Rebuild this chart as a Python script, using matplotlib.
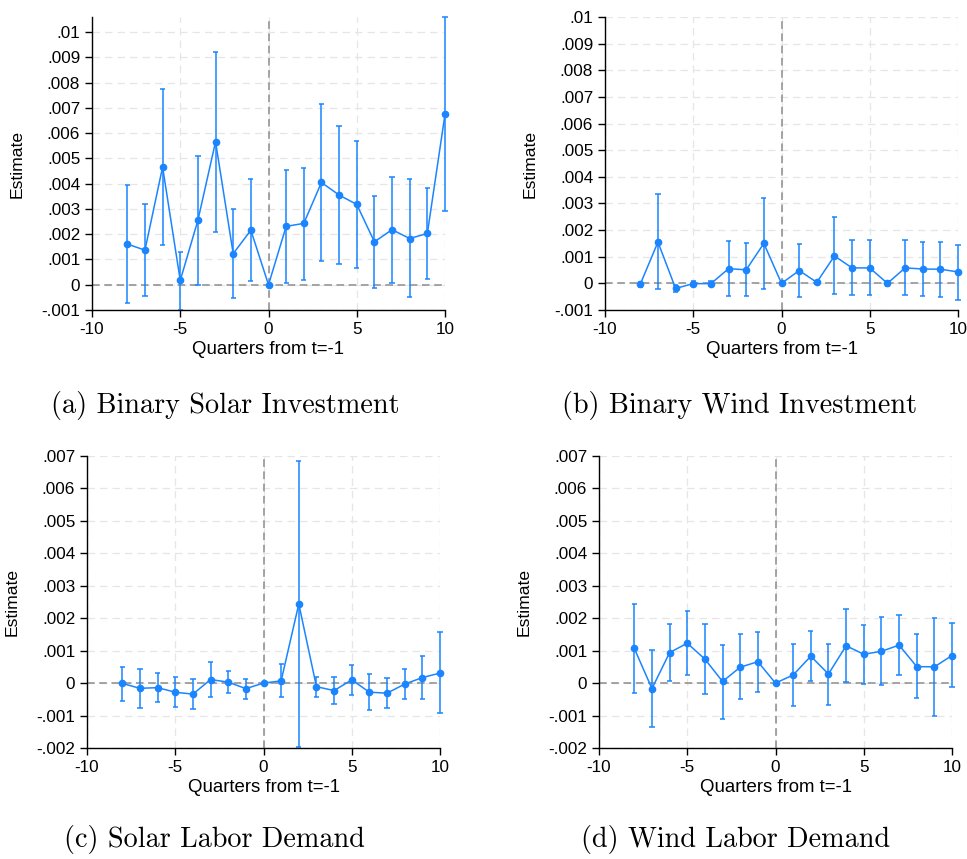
import matplotlib
matplotlib.use("Agg")
import matplotlib.pyplot as plt
from matplotlib.ticker import FuncFormatter

plt.rcParams['font.family'] = ['Liberation Sans', 'DejaVu Sans']
plt.rcParams['axes.unicode_minus'] = False

quarters = [-8, -7, -6, -5, -4, -3, -2, -1, 0, 1, 2, 3, 4, 5, 6, 7, 8, 9, 10]

# (a) Binary Solar Investment  (units of 0.001)
solar_inv_est = [1.61, 1.37, 4.66, 0.17, 2.55, 5.66, 1.23, 2.16, 0.0, 2.31, 2.43,
                 4.05, 3.55, 3.18, 1.70, 2.18, 1.83, 2.03, 6.75]
solar_inv_hi = [3.94, 3.19, 7.74, 1.29, 5.09, 9.22, 2.98, 4.17, 0.0, 4.56, 4.64,
                7.14, 6.29, 5.71, 3.52, 4.26, 4.17, 3.84, 10.61]
solar_inv_lo = [-0.74, -0.45, 1.56, -1.00, 0.0, 2.08, -0.54, 0.15, 0.0, 0.05, 0.20,
                0.95, 0.82, 0.65, -0.11, 0.08, -0.50, 0.22, 2.92]

# (b) Binary Wind Investment
wind_inv_est = [-0.03, 1.55, -0.19, -0.01, -0.01, 0.55, 0.51, 1.50, 0.0, 0.48, 0.04,
                1.03, 0.58, 0.58, 0.0, 0.58, 0.54, 0.53, 0.43]
wind_inv_hi = [0.05, 3.34, -0.05, 0.08, 0.08, 1.59, 1.51, 3.22, 0.0, 1.46, 0.10,
               2.49, 1.61, 1.61, 0.08, 1.61, 1.56, 1.54, 1.45]
wind_inv_lo = [-0.13, -0.21, -0.33, -0.09, -0.10, -0.46, -0.46, -0.20, 0.0, -0.51, -0.03,
               -0.41, -0.45, -0.45, -0.09, -0.45, -0.49, -0.50, -0.61]

# (c) Solar Labor Demand
solar_lab_est = [-0.01, -0.16, -0.14, -0.28, -0.34, 0.11, 0.03, -0.17, 0.0, 0.07, 2.44,
                 -0.11, -0.23, 0.10, -0.28, -0.31, -0.03, 0.17, 0.31]
solar_lab_hi = [0.51, 0.42, 0.31, 0.18, 0.14, 0.65, 0.37, 0.12, 0.0, 0.59, 6.86,
                0.20, 0.18, 0.57, 0.28, 0.16, 0.45, 0.83, 1.56]
solar_lab_lo = [-0.54, -0.76, -0.59, -0.74, -0.81, -0.42, -0.31, -0.48, 0.0, -0.42, -1.98,
                -0.43, -0.64, -0.38, -0.83, -0.77, -0.50, -0.49, -0.93]

# (d) Wind Labor Demand
wind_lab_est = [1.07, -0.17, 0.94, 1.23, 0.74, 0.05, 0.49, 0.66, 0.0, 0.25, 0.83,
                0.28, 1.15, 0.89, 0.98, 1.17, 0.51, 0.50, 0.85]
wind_lab_hi = [2.45, 1.02, 1.83, 2.22, 1.83, 1.19, 1.51, 1.58, 0.0, 1.21, 1.62,
               1.22, 2.27, 1.80, 2.05, 2.11, 1.50, 2.01, 1.84]
wind_lab_lo = [-0.31, -1.36, 0.05, 0.25, -0.34, -1.10, -0.49, -0.27, 0.0, -0.72, 0.05,
               -0.67, 0.02, -0.02, -0.07, 0.25, -0.46, -1.01, -0.12]

captions = ["(a) Binary Solar Investment", "(b) Binary Wind Investment",
            "(c) Solar Labor Demand", "(d) Wind Labor Demand"]

BLUE = '#1a85ff'
W, H = 967, 859


def fmt(v, pos):
    v = round(v * 1000) / 1000
    if v == 0:
        return "0"
    s = f"{v:.3f}".rstrip('0').rstrip('.')
    return s.replace("0.", ".")


def panel(rect, est, lo, hi, ylim, yticks, caption, cap_xy):
    l, t, r, b = rect
    ax = fig.add_axes([l / W, 1 - b / H, (r - l) / W, (b - t) / H])
    sc = 0.001
    e = [v * sc for v in est]
    lo_ = [v * sc for v in lo]
    hi_ = [v * sc for v in hi]
    ax.axhline(0, color='#8c8c8c', lw=1.1, ls=(0, (5, 3)), zorder=1)
    ax.axvline(0, color='#8c8c8c', lw=1.1, ls=(0, (5, 3)), zorder=1)
    left = [q - 0.15 for q in quarters]
    right = [q + 0.15 for q in quarters]
    ax.vlines(quarters, lo_, hi_, color=BLUE, lw=1.3, alpha=0.85, zorder=2, clip_on=False)
    ax.hlines(lo_, left, right, color=BLUE, lw=1.3, alpha=0.85, zorder=2, clip_on=False)
    ax.hlines(hi_, left, right, color=BLUE, lw=1.3, alpha=0.85, zorder=2, clip_on=False)
    ax.plot(quarters, e, color=BLUE, lw=1.1, marker='o', ms=4.5, zorder=3, clip_on=False)
    ax.set_xlim(-10, 10)
    ax.set_ylim(*ylim)
    ax.set_xticks([-10, -5, 0, 5, 10])
    ax.set_yticks(yticks)
    ax.yaxis.set_major_formatter(FuncFormatter(fmt))
    ax.grid(True, color='#e6e6e6', lw=0.9, ls=(0, (6, 4)))
    ax.set_axisbelow(True)
    for s in ['top', 'right']:
        ax.spines[s].set_visible(False)
    ax.spines['left'].set_linewidth(1.0)
    ax.spines['bottom'].set_linewidth(1.0)
    ax.tick_params(labelsize=12.3, length=5, width=1.0, pad=3.5)
    ax.set_ylabel("Estimate", fontsize=12.6, labelpad=12)
    ax.set_xlabel("Quarters from t=-1", fontsize=13.4, labelpad=3)
    fig.text(cap_xy[0] / W, 1 - cap_xy[1] / H, caption, family='cmr10',
             fontsize=20.3, ha='center', va='center')
    return ax


fig = plt.figure(figsize=(W / 100, H / 100), dpi=100)

panel((92, 17, 445, 310), solar_inv_est, solar_inv_lo, solar_inv_hi,
      (-0.001, 0.0106), [i * 0.001 for i in range(-1, 11)], captions[0], (225, 405))
panel((605, 17, 958, 310), wind_inv_est, wind_inv_lo, wind_inv_hi,
      (-0.001, 0.010), [i * 0.001 for i in range(-1, 11)], captions[1], (740, 405))
panel((87, 456, 440, 748), solar_lab_est, solar_lab_lo, solar_lab_hi,
      (-0.002, 0.007), [i * 0.001 for i in range(-2, 8)], captions[2], (214, 840))
panel((599, 456, 952, 748), wind_lab_est, wind_lab_lo, wind_lab_hi,
      (-0.002, 0.007), [i * 0.001 for i in range(-2, 8)], captions[3], (736, 840))

fig.savefig("out.png", dpi=100)
